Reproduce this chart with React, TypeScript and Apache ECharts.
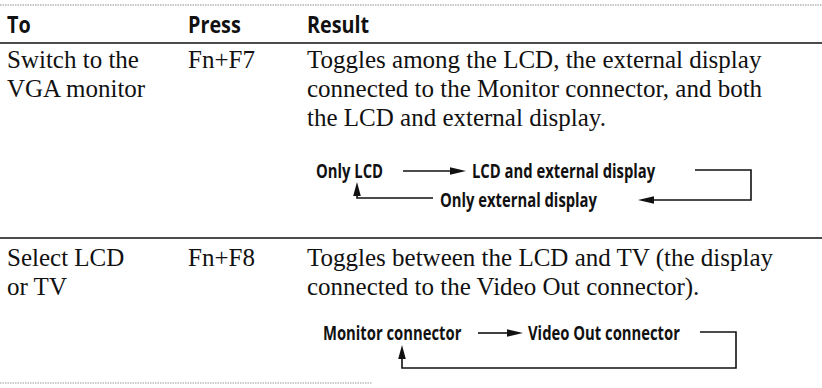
import React, { useEffect, useRef } from "react";
import * as echarts from "echarts";

// ---- content ----
const headers = ["To", "Press", "Result"];
const toCol = [
  ["Switch to the", "VGA monitor"],
  ["Select LCD", "or TV"],
];
const pressCol = ["Fn+F7", "Fn+F8"];
const resultCol = [
  [
    "Toggles among the LCD, the external display",
    "connected to the Monitor connector, and both",
    "the LCD and external display.",
  ],
  [
    "Toggles between the LCD and TV (the display",
    "connected to the Video Out connector).",
  ],
];
const cycle1 = ["Only LCD", "LCD and external display", "Only external display"];
const cycle2 = ["Monitor connector", "Video Out connector"];

const W = 822;
const H = 388;
const SERIF = "'Liberation Serif', 'Times New Roman', serif";
const SANS = "'Open Sans', sans-serif";

function text(
  x: number,
  y: number,
  s: string,
  font: string,
  size: number,
  weight: any = "normal",
  scaleX = 1,
  vAlign = "alphabetic"
) {
  return {
    type: "text",
    x,
    y,
    scaleX,
    style: {
      text: s,
      fill: "#111",
      font: `${weight} ${size}px ${font}`,
      textAlign: "left",
      textVerticalAlign: vAlign === "alphabetic" ? "bottom" : vAlign,
      verticalAlign: vAlign === "alphabetic" ? "bottom" : vAlign,
    },
  };
}

function line(x1: number, y1: number, x2: number, y2: number, width = 1.5, color = "#111", dash?: number[]) {
  return {
    type: "line",
    shape: { x1, y1, x2, y2 },
    style: { stroke: color, lineWidth: width, lineDash: dash },
  };
}

function poly(points: number[][], width = 1.6) {
  return {
    type: "polyline",
    shape: { points },
    style: { stroke: "#111", lineWidth: width, fill: null },
  };
}

// arrowhead with tip at (x,y) pointing in dir
function head(x: number, y: number, dir: "left" | "right" | "up", len = 16, half = 3.8) {
  let pts: number[][];
  if (dir === "right") pts = [[x, y], [x - len, y - half], [x - len, y + half]];
  else if (dir === "left") pts = [[x, y], [x + len, y - half], [x + len, y + half]];
  else pts = [[x, y], [x - half, y + len], [x + half, y + len]];
  return { type: "polygon", shape: { points: pts }, style: { fill: "#111" } };
}

export default function App() {
  const ref = useRef<HTMLDivElement>(null);
  useEffect(() => {
    if (!ref.current) return;
    const chart = echarts.init(ref.current, null, { renderer: "svg" });

    const colX = [7, 188, 307];
    const ruleTop = 43;
    const rule2 = 238;
    const lineH = 29;
    const row1Base = 67;
    const row2Base = 265;
    const bodySize = 25;
    const desc = 5; // approx descent so "bottom" ~ baseline

    const els: any[] = [];
    // rules
    els.push(line(0, 5, W, 5, 1, "#8a8a8a", [1.5, 1]));
    els.push(line(0, ruleTop, W, ruleTop, 1.6));
    els.push(line(0, rule2, W, rule2, 1.6));
    els.push(line(0, 383, 372, 383, 1, "#9a9a9a", [1.5, 1]));

    // header
    headers.forEach((h, i) =>
      els.push(text(colX[i], 24, h, SANS, 23, "bold", 0.86, "middle"))
    );

    // rows
    const rowBases = [row1Base, row2Base];
    rowBases.forEach((rb, r) => {
      toCol[r].forEach((s, k) =>
        els.push(text(colX[0], rb + desc + k * lineH, s, SERIF, bodySize))
      );
      els.push(text(colX[1], rb + desc, pressCol[r], SERIF, bodySize));
      resultCol[r].forEach((s, k) =>
        els.push(text(colX[2], rb + desc + k * lineH, s, SERIF, bodySize))
      );
    });

    // diagram labels
    const ds = 19;
    const dsx = 0.78;

    // diagram 1
    const d1a = 171;
    const d1b = 200;
    els.push(text(316, d1a, cycle1[0], SANS, ds, "bold", dsx, "middle"));
    els.push(line(403, d1a, 452, d1a, 1.6));
    els.push(head(466, d1a, "right"));
    els.push(text(472, d1a, cycle1[1], SANS, ds, "bold", dsx, "middle"));
    els.push(poly([[695, d1a - 1], [751, d1a - 1], [751, d1b], [652, d1b]]));
    els.push(head(638, d1b, "left"));
    els.push(text(440, d1b, cycle1[2], SANS, ds, "bold", dsx, "middle"));
    els.push(poly([[433, d1b - 2], [357, d1b - 2], [357, d1a + 22]]));
    els.push(head(357, d1a + 11, "up", 14, 3.8));

    // diagram 2
    const d2 = 333;
    const d2b = 368;
    els.push(text(323, d2, cycle2[0], SANS, ds, "bold", dsx, "middle"));
    els.push(line(478, d2, 509, d2, 1.6));
    els.push(head(523, d2, "right"));
    els.push(text(528, d2, cycle2[1], SANS, ds, "bold", dsx, "middle"));
    els.push(poly([[700, d2 - 1], [736, d2 - 1], [736, d2b], [402, d2b], [402, d2 + 24]]));
    els.push(head(402, d2 + 12, "up", 14, 3.8));

    chart.setOption({
      animation: false,
      backgroundColor: "#ffffff",
      graphic: els,
    });
    return () => chart.dispose();
  }, []);

  return (
    <div
      ref={ref}
      style={{ position: "fixed", left: 0, top: 0, width: W, height: H, background: "#fff" }}
    />
  );
}
